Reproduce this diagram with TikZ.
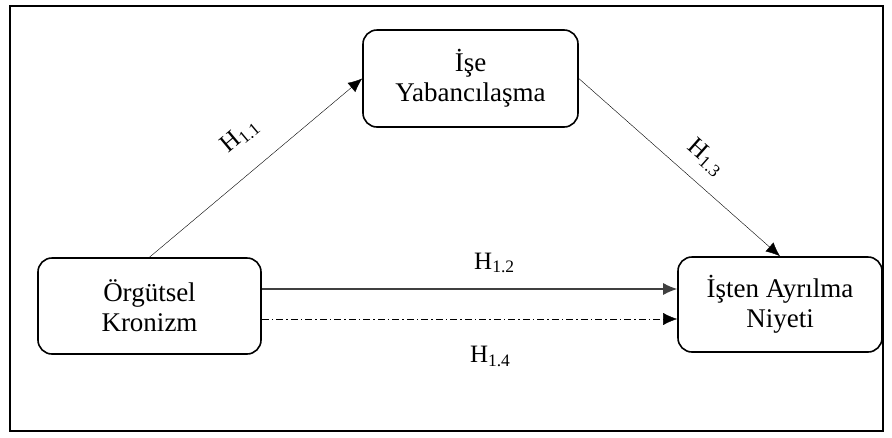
\documentclass[tikz,border=0pt]{standalone}
\usepackage{fontspec}
\setmainfont{Liberation Serif}
\usetikzlibrary{arrows.meta}
\begin{document}
\begin{tikzpicture}[x = 1pt, y = -1pt,
  box/.style = {draw, line width = 1.6pt, rounded corners = 14pt, align = center, font = \fontsize{27}{30}\selectfont},
  lbl/.style = {font = \fontsize{25}{30}\selectfont},
  > = {Latex[length = 14pt, width = 12pt]}]
\useasboundingbox (0,0) rectangle (892,437);
\draw [line width = 1.4pt] (10,6) rectangle (883,431);
\node (IY) [box, minimum width = 215pt, minimum height = 97pt] at (470.5,78.5) {İşe\\Yabancılaşma};
\node (OK) [box, minimum width = 223pt, minimum height = 96pt] at (149.5,306) {Örgütsel\\Kronizm};
\node (AN) [box, minimum width = 204pt, minimum height = 95pt] at (780,304.5) {İşten Ayrılma\\Niyeti};
\draw [->] (OK.north) -- (IY.west) node [lbl, pos = .53, sloped, above = 21pt] {H\textsubscript{1.1}};
\draw [->] (IY.east) -- (AN.north) node [lbl, pos = .55, sloped, above = 11pt] {H\textsubscript{1.3}};
\draw [->, line width = 1.2pt, black!75] ([yshift = 17pt]OK.east) -- ([yshift = 17pt]OK.east -| AN.west) node [lbl, pos = .56, above = 12pt, black] {H\textsubscript{1.2}};
\draw [->, dash pattern = on 7pt off 3pt on 1.5pt off 3pt] ([yshift = -13pt]OK.east) -- ([yshift = -13pt]OK.east -| AN.west) node [lbl, pos = .55, below = 24pt] {H\textsubscript{1.4}};
\end{tikzpicture}
\end{document}
